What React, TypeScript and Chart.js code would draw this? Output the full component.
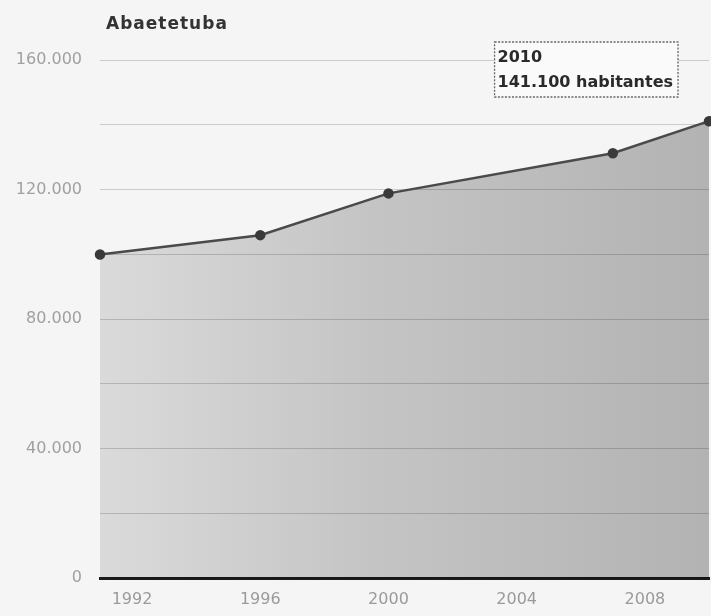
import React, { useEffect, useRef } from "react";
import { Chart, registerables } from "chart.js";

Chart.register(...registerables);

const chartTitle = "Abaetetuba";
const years = [1991, 1996, 2000, 2007, 2010];
const population = [99900, 105900, 118800, 131200, 141100];
const xTickYears = [1992, 1996, 2000, 2004, 2008];
const yLabelStep = 40000;
const tooltipIndex = 4;
const tooltipUnit = "habitantes";

function fmt(v: number): string {
  return String(Math.round(v)).replace(/\B(?=(\d{3})+(?!\d))/g, ".");
}

export default function App() {
  const ref = useRef<HTMLCanvasElement | null>(null);

  useEffect(() => {
    if (!ref.current) return;

    const bgPlugin = {
      id: "bg",
      beforeDraw(chart: any) {
        const c = chart.ctx;
        c.save();
        c.fillStyle = "#f5f5f5";
        c.fillRect(0, 0, chart.width, chart.height);
        c.restore();
      },
    };

    const overlayPlugin = {
      id: "overlay",
      afterDraw(chart: any) {
        const c = chart.ctx;
        const area = chart.chartArea;
        c.save();
        c.fillStyle = "#333";
        c.font = "bold 17px 'DejaVu Sans'";
        (c as any).letterSpacing = "1px";
        c.textBaseline = "middle";
        c.textAlign = "left";
        c.fillText(chartTitle, area.left + 6, 25);
        (c as any).letterSpacing = "0px";
        const meta = chart.getDatasetMeta(0);
        const pt = meta.data[tooltipIndex];
        const line1 = String(years[tooltipIndex]);
        const line2 = fmt(population[tooltipIndex]) + " " + tooltipUnit;
        c.font = "bold 16px 'DejaVu Sans'";
        const w = Math.max(c.measureText(line1).width, c.measureText(line2).width) + 8;
        const h = 55;
        const bx = pt.x - 31 - w;
        const by = area.top - 18;
        c.fillStyle = "rgba(250,250,250,0.95)";
        c.fillRect(bx, by, w, h);
        c.strokeStyle = "#666";
        c.lineWidth = 1.3;
        c.setLineDash([2, 1.5]);
        c.strokeRect(bx, by, w, h);
        c.setLineDash([]);
        c.fillStyle = "#2a2a2a";
        c.fillText(line1, bx + 3, by + 16);
        c.fillText(line2, bx + 3, by + 41);
        c.restore();
      },
    };

    const chart = new Chart(ref.current, {
      type: "line",
      data: {
        datasets: [
          {
            data: years.map((y, i) => ({ x: y, y: population[i] })),
            borderColor: "#4a4a4a",
            borderWidth: 2.5,
            pointRadius: 4,
            pointBackgroundColor: "#3a3a3a",
            pointBorderColor: "#3a3a3a",
            fill: "origin",
            clip: false as any,
            backgroundColor: (ctx: any) => {
              const area = ctx.chart.chartArea;
              if (!area) return "rgba(0,0,0,0.2)";
              const g = ctx.chart.ctx.createLinearGradient(area.left, 0, area.right, 0);
              g.addColorStop(0, "rgba(0,0,0,0.11)");
              g.addColorStop(0.45, "rgba(0,0,0,0.2)");
              g.addColorStop(1, "rgba(0,0,0,0.27)");
              return g;
            },
          },
        ],
      },
      options: {
        animation: false,
        responsive: false,
        layout: { autoPadding: false, padding: { top: 60, right: 2, left: 0, bottom: 0 } },
        plugins: {
          legend: { display: false },
          tooltip: { enabled: false },
          title: { display: false },
        },
        events: [],
        scales: {
          x: {
            type: "linear",
            min: years[0],
            max: years[years.length - 1],
            afterBuildTicks: (scale: any) => {
              scale.ticks = xTickYears.map((v) => ({ value: v }));
            },
            afterFit: (scale: any) => {
              scale.height = 38;
            },
            grid: { display: false, drawTicks: false },
            border: { display: true, color: "#1a1a1a", width: 3 },
            ticks: {
              padding: 12,
              color: "#9a9a9a",
              font: { family: "'DejaVu Sans'", size: 16 },
              autoSkip: false,
              maxRotation: 0,
              callback: (v: any) => String(v),
            },
          },
          y: {
            min: 0,
            max: 160000,
            afterFit: (scale: any) => {
              scale.width = 100;
            },
            grid: {
              drawTicks: false,
              color: "rgba(70,70,70,0.24)",
              lineWidth: 1,
            },
            border: { display: false },
            ticks: {
              stepSize: 20000,
              padding: 18,
              color: "#a0a0a0",
              font: { family: "'DejaVu Sans'", size: 16 },
              callback: (v: any) => (Number(v) % yLabelStep === 0 ? fmt(Number(v)) : ""),
            },
          },
        },
      } as any,
      plugins: [bgPlugin, overlayPlugin],
    });

    return () => chart.destroy();
  }, []);

  return (
    <div style={{ position: "fixed", left: 0, top: 0, width: 711, height: 616, background: "#f5f5f5" }}>
      <canvas ref={ref} width={711} height={616} style={{ display: "block", width: 711, height: 616 }} />
    </div>
  );
}
